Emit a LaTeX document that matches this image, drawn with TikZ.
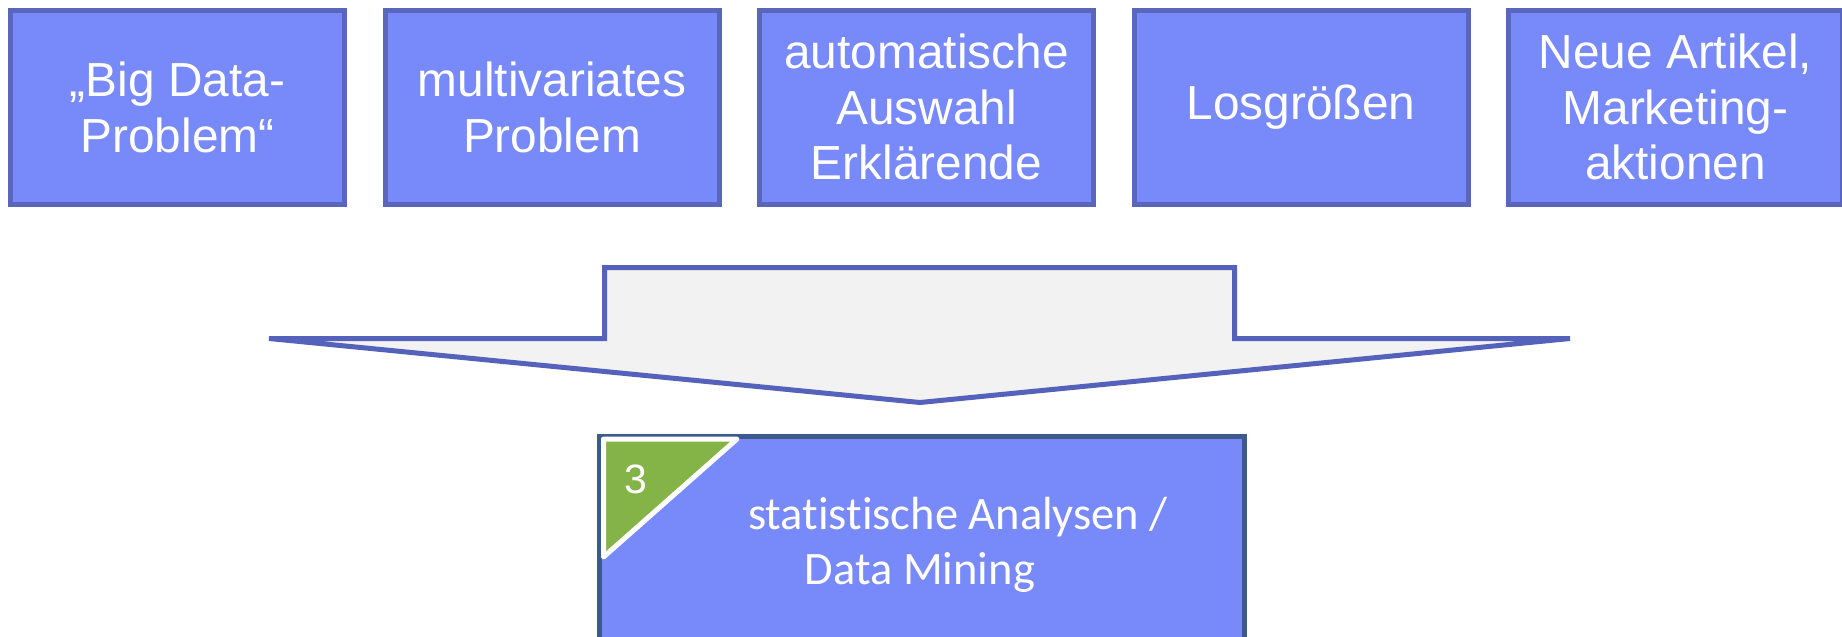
\documentclass[tikz,border=0pt]{standalone}
\usepackage{fontspec}
\setmainfont{Liberation Sans}
\newfontfamily\calibrifont[RawFeature={-liga}]{Carlito}
\definecolor{boxfill}{HTML}{7889FA}
\definecolor{boxline}{HTML}{5966BB}
\definecolor{arrowfill}{HTML}{F2F2F2}
\definecolor{arrowline}{HTML}{5562BB}
\definecolor{mainline}{HTML}{3C5A8A}
\definecolor{badge}{HTML}{84B447}
\begin{document}
\begin{tikzpicture}[x=1pt,y=-1pt,
  topbox/.style={draw=boxline, fill=boxfill, line width=5pt,
    minimum width=334pt, minimum height=194.5pt, inner sep=0pt,
    text=white, align=center, font=\fontsize{47.8}{55.5}\selectfont},
  mainbox/.style={draw=mainline, fill=boxfill, line width=5pt},
  bigarrow/.style={draw=arrowline, fill=arrowfill, line width=5pt},
  badgetri/.style={draw=white, fill=badge, line width=5pt, line join=round},
  maintext/.style={text=white, inner sep=0pt, anchor=base,
    font=\calibrifont\fontsize{46.5}{55}\selectfont}]
\useasboundingbox (0,0) rectangle (1842,637);

% five input boxes
\node[topbox] (b1) at (177.5,107.25) {„Big Data-\\Problem“};
\node[topbox] (b2) at (552,107.25) {multivariates\\Problem};
\node[topbox] (b3) at (926.5,107.25) {automatische\\Auswahl\\Erklärende};
\node[topbox] (b4) at (1301,107.25) {Losgrößen};
\node[topbox] (b5) at (1675.5,107.25) {Neue Artikel,\\Marketing-\\aktionen};

% funnel arrow
\coordinate (tip) at (920,402.5);
\draw[bigarrow] (604.5,267.5) -- (1234.5,267.5) -- (1234.5,338.5)
  -- (1570,338.5) -- (tip) -- (269,338.5) -- (604.5,338.5) -- cycle;

% result box with step badge
\node[mainbox, anchor=north west, minimum width=644.5pt, minimum height=240pt,
  inner sep=0pt] (res) at (597,433.5) {};
\draw[badgetri] (603.5,439) -- (737,439) -- (603.5,557) -- cycle;
\node[text=white, inner sep=0pt, font=\fontsize{41}{48}\selectfont] (num) at (636,479.5) {3};
\node[maintext] (t1) at (958,529) {statistische Analysen /};
\node[maintext] (t2) at (920,584) {Data Mining};
\end{tikzpicture}
\end{document}
